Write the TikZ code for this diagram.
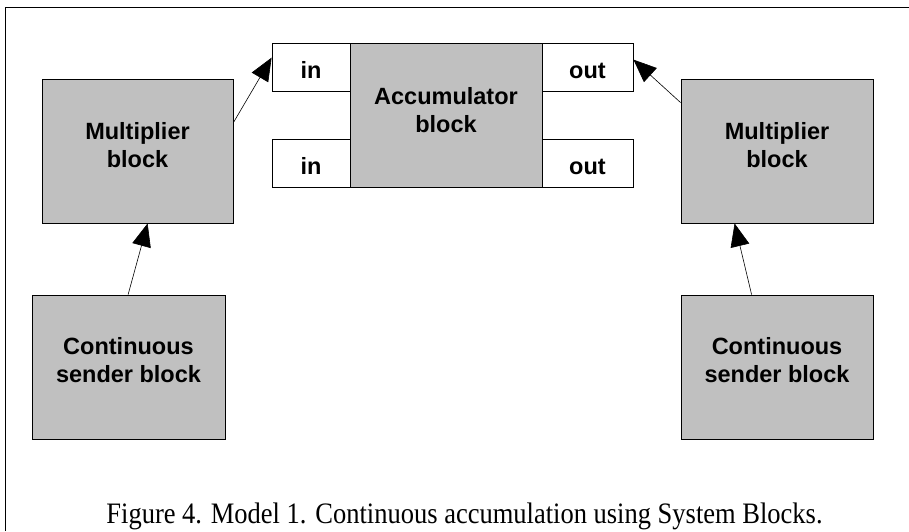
\documentclass[tikz,border=0pt]{standalone}
\usepackage{fontspec}
\setmainfont{Liberation Serif}
\newfontfamily\arialfont{Liberation Sans}
\usetikzlibrary{arrows.meta}
\definecolor{blockgray}{HTML}{C0C0C0}
\begin{document}
\begin{tikzpicture}[x=1pt,y=-1pt,
  gbox/.style={draw=black,line width=0.8pt,fill=blockgray,inner sep=0pt,minimum width=#1,minimum height=144pt},
  port/.style={draw=black,line width=0.8pt,fill=white,inner sep=0pt,minimum width=#1,minimum height=48pt},
  lbl/.style={font=\arialfont\bfseries\fontsize{23.5}{28}\selectfont,align=center,anchor=base,inner sep=0pt},
  conn/.style={draw=black,line width=0.6pt,-{Triangle[length=23pt,width=19pt]}}]
\useasboundingbox (0,0) rectangle (909,531);
\draw[line width=0.9pt] (5,531) -- (5,7) -- (909,7);
% accumulator and ports
\node[gbox=192pt] (acc) at (446,115) {};
\node[port=78pt] (in1) at (311,67) {};
\node[port=78pt] (in2) at (311,163) {};
\node[port=91pt] (out1) at (587.5,67) {};
\node[port=91pt] (out2) at (587.5,163) {};
\node[lbl] (acct) at (446,132) {Accumulator\\block};
\node[lbl] (in1t) at (311,78) {in};
\node[lbl] (in2t) at (311,174) {in};
\node[lbl] (out1t) at (587.5,78) {out};
\node[lbl] (out2t) at (587.5,174) {out};
% left side
\node[gbox=191pt] (lm) at (137.5,151) {};
\node[gbox=193pt] (ls) at (128.5,367) {};
\node[lbl] (lmt) at (137.5,167) {Multiplier\\block};
\node[lbl] (lst) at (128.5,382) {Continuous\\sender block};
% right side
\node[gbox=192pt] (rm) at (777,151) {};
\node[gbox=192pt] (rs) at (777,367) {};
\node[lbl] (rmt) at (777,167) {Multiplier\\block};
\node[lbl] (rst) at (777,382) {Continuous\\sender block};
% connectors
\draw[conn] ([xshift=96.5pt]ls.north west) -- ([xshift=106pt]lm.south west);
\draw[conn] ([yshift=-44pt]lm.north east) -- ([yshift=-15pt]in1.north west);
\draw[conn] ([yshift=-24pt]rm.north west) -- ([yshift=-17pt]out1.north east);
\draw[conn] ([xshift=71pt]rs.north west) -- ([xshift=54pt]rm.south west);
% caption
\node[font=\fontsize{26.5}{30}\selectfont,anchor=base,inner sep=0pt,yscale=1.12] (cap) at (464.5,523) {Figure 4. Model 1. Continuous accumulation using System Blocks.};
\end{tikzpicture}
\end{document}
